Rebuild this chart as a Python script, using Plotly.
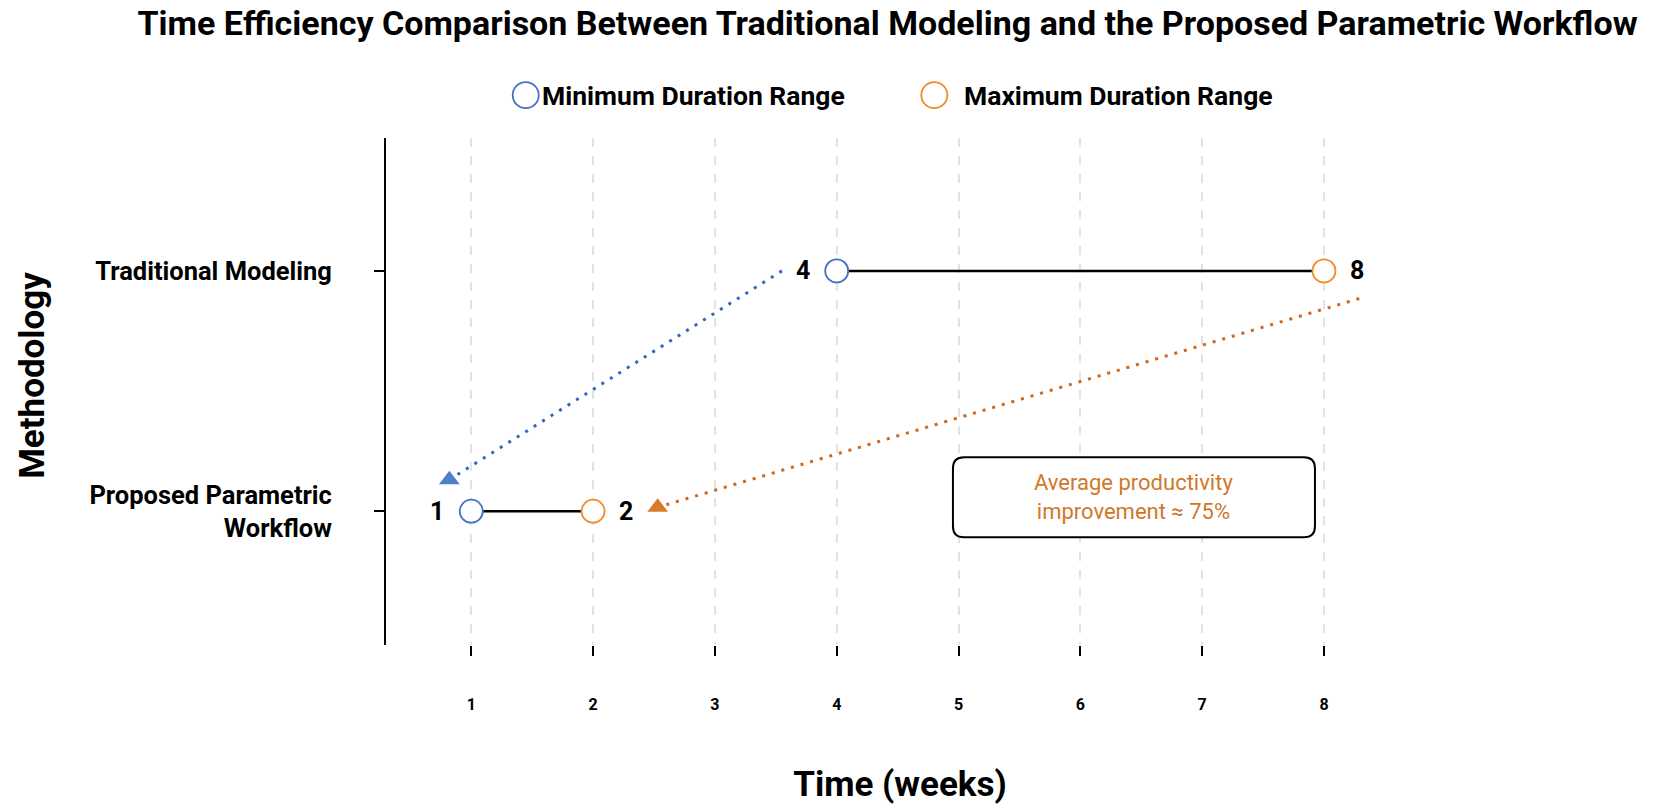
import plotly.graph_objects as go

# ---------------- data ----------------
methods = ["Traditional Modeling", "Proposed Parametric Workflow"]
method_ticktext = ["Traditional Modeling", "Proposed Parametric<br>Workflow"]
method_pos = [1, 0]
min_weeks = [4, 1]
max_weeks = [8, 2]
x_ticks = [1, 2, 3, 4, 5, 6, 7, 8]

# decorative dotted arrows (start -> end), in data units
arrow_min_x = [3.55, 0.82]
arrow_min_y = [1.0, 0.131]
arrow_max_x = [8.29, 2.53]
arrow_max_y = [0.885, 0.016]

note_text = "Average productivity<br>improvement ≈ 75%"
note_x = 6.44
note_y = 0.058

BLUE = "#4472C4"
ORANGE = "#F58A2A"
BLUE_DARK = "#2F66C4"
ORANGE_DARK = "#CC671E"
NOTE_ORANGE = "#D0782A"
FONT = "Roboto"

fig = go.Figure()

# connecting lines
for i in range(len(methods)):
    fig.add_trace(go.Scatter(
        x=[min_weeks[i], max_weeks[i]], y=[method_pos[i], method_pos[i]],
        mode="lines", line=dict(color="black", width=2.5),
        showlegend=False, hoverinfo="skip"))

# dotted arrows
fig.add_trace(go.Scatter(
    x=arrow_min_x, y=arrow_min_y, mode="lines",
    line=dict(color=BLUE_DARK, width=3, dash="3px,7px"),
    showlegend=False, hoverinfo="skip"))
fig.add_trace(go.Scatter(
    x=arrow_max_x, y=arrow_max_y, mode="lines",
    line=dict(color=ORANGE_DARK, width=3, dash="3px,7px"),
    showlegend=False, hoverinfo="skip"))
fig.add_trace(go.Scatter(
    x=[arrow_min_x[-1]], y=[arrow_min_y[-1]], mode="markers",
    marker=dict(symbol="triangle-up", size=18, color="#4F7FC8"),
    showlegend=False, hoverinfo="skip"))
fig.add_trace(go.Scatter(
    x=[arrow_max_x[-1]], y=[arrow_max_y[-1]], mode="markers",
    marker=dict(symbol="triangle-up", size=18, color="#D97A2B"),
    showlegend=False, hoverinfo="skip"))

# markers
fig.add_trace(go.Scatter(
    x=min_weeks, y=method_pos, mode="markers", name="Minimum Duration Range",
    marker=dict(symbol="circle", size=23, color="white",
                line=dict(color=BLUE, width=1.8)),
    showlegend=False))
fig.add_trace(go.Scatter(
    x=max_weeks, y=method_pos, mode="markers", name="Maximum Duration Range",
    marker=dict(symbol="circle", size=23, color="white",
                line=dict(color=ORANGE, width=1.8)),
    showlegend=False))

annotations = []
for i in range(len(methods)):
    annotations.append(dict(x=min_weeks[i], y=method_pos[i], text=f"<b>{min_weeks[i]}</b>",
                            showarrow=False, xshift=-34, font=dict(size=25, color="black", family=FONT)))
    annotations.append(dict(x=max_weeks[i], y=method_pos[i], text=f"<b>{max_weeks[i]}</b>",
                            showarrow=False, xshift=33, font=dict(size=25, color="black", family=FONT)))

shapes = []
# rounded note box (pixel-sized path anchored at note position)
hw, hh, rr = 181, 40, 11
box_path = (f"M{-hw + rr},{-hh} L{hw - rr},{-hh} Q{hw},{-hh} {hw},{-hh + rr} "
            f"L{hw},{hh - rr} Q{hw},{hh} {hw - rr},{hh} "
            f"L{-hw + rr},{hh} Q{-hw},{hh} {-hw},{hh - rr} "
            f"L{-hw},{-hh + rr} Q{-hw},{-hh} {-hw + rr},{-hh} Z")
shapes.append(dict(type="path", xref="x", yref="y",
                   xsizemode="pixel", ysizemode="pixel",
                   xanchor=note_x, yanchor=note_y, path=box_path,
                   line=dict(color="black", width=2), fillcolor="white", layer="above"))
annotations.append(dict(
    x=note_x, y=note_y, text=note_text, showarrow=False,
    font=dict(size=22, color=NOTE_ORANGE, family=FONT), align="center"))

# y-axis title
annotations.append(dict(xref="paper", yref="paper", x=-0.3438, y=0.532,
                        text="<b>Methodology</b>", textangle=-90, showarrow=False,
                        xanchor="center", yanchor="middle",
                        font=dict(size=35, color="black", family=FONT)))

# manual legend
legend_y = 1.0845
legend_items = [("Minimum Duration Range", BLUE, 0.1359, 0.1500),
                ("Maximum Duration Range", ORANGE, 0.5334, 0.5601)]
for label, col, cx, tx in legend_items:
    shapes.append(dict(type="circle", xref="paper", yref="paper",
                       xsizemode="pixel", ysizemode="pixel",
                       xanchor=cx, yanchor=legend_y,
                       x0=-13, x1=13, y0=-13, y1=13,
                       line=dict(color=col, width=1.8), fillcolor="white"))
    annotations.append(dict(xref="paper", yref="paper", x=tx, y=legend_y,
                            xanchor="left", yanchor="middle", showarrow=False,
                            text=f"<b>{label}</b>",
                            font=dict(size=26.5, color="black", family=FONT)))

fig.update_layout(
    width=1656, height=809,
    margin=dict(l=385.5, r=241.5, t=137.5, b=156.5),
    plot_bgcolor="white", paper_bgcolor="white",
    font=dict(family=FONT, color="black"),
    title=dict(text="<b>Time Efficiency Comparison Between Traditional Modeling and the Proposed Parametric Workflow</b>",
               x=0.4879, xref="paper", xanchor="center",
               y=0.9715, yref="container", yanchor="middle",
               font=dict(size=34, family=FONT, color="black")),
    annotations=annotations,
    shapes=shapes,
    showlegend=False,
)

fig.update_xaxes(
    range=[0.3, 8.739], tickmode="array", tickvals=x_ticks,
    ticktext=[f"<b>{t}</b>" for t in x_ticks],
    showline=False, zeroline=False,
    ticks="outside", ticklen=10, tickwidth=2, tickcolor="black",
    ticklabelstandoff=35,
    tickfont=dict(size=16, family=FONT, color="black"),
    showgrid=True, gridcolor="#E3E3E3", gridwidth=1.5, griddash="dash",
    title=dict(text="<b>Time (weeks)</b>", standoff=58,
               font=dict(size=35, family=FONT, color="black")),
)
fig.update_yaxes(
    range=[-0.557, 1.553], tickmode="array", tickvals=method_pos,
    ticktext=[f"<b>{t}</b>" for t in method_ticktext],
    showline=True, linecolor="black", linewidth=2, zeroline=False,
    ticks="outside", ticklen=10, tickwidth=2, tickcolor="black",
    ticklabelstandoff=37, showgrid=False,
    tickfont=dict(size=25.5, family=FONT, color="black"),
)

fig.write_html("out.html", config={"displayModeBar": False},
               post_script="document.body.style.margin='0';")
